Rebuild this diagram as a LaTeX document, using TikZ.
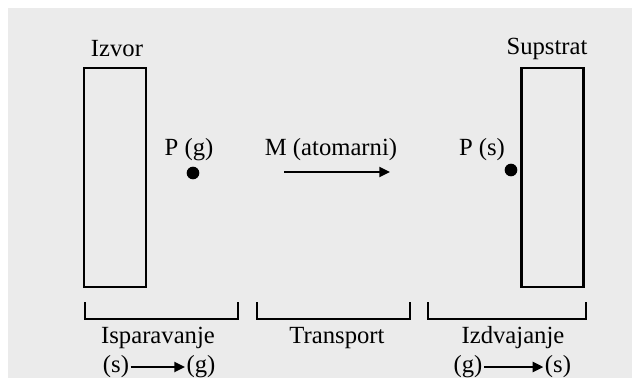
\documentclass[tikz,border=0pt]{standalone}
\usepackage{fontspec}
\setmainfont{Liberation Serif}
\usetikzlibrary{arrows.meta,positioning}
\tikzset{
  lbl/.style={font=\fontsize{18.5}{22}\selectfont, inner sep=1pt},
  plate/.style={draw, line width=1.6pt, minimum width=46.5pt, minimum height=164pt, inner sep=0pt},
  brace/.style={draw, line width=1.5pt},
  flow/.style={line width=1.6pt, -{Triangle[length=8pt,width=7.5pt]}},
  dot/.style={circle, fill, inner sep=0pt, minimum size=9.5pt}
}
\begin{document}
\begin{tikzpicture}[x=0.75pt,y=-0.75pt]
	%background of the scan
	\fill[white] (0,0) rectangle (632,383);
	\fill[black!8] (8,8) rectangle (632,378);
	
	%source and substrate
	\node[plate] (izvor) at (115,177.5){};
	\node[plate] (supstrat) at (552.5,177.5){};
	\node[lbl] (izvorlbl) at (117,49){Izvor};
	\node[lbl] (supstratlbl) at (547,49){Supstrat};
	
	%particles
	\node[lbl] (pg) at (189,150){P (g)};
	\node[dot] (pgdot) at (193,173){};
	\node[lbl] (ps) at (482,150){P (s)};
	\node[dot] (psdot) at (511,170){};
	
	%transport
	\node[lbl] (matom) at (331,150){M (atomarni)};
	\coordinate (mstart) at (284,172);
	\coordinate (mend) at (390,172);
	\draw[flow] (mstart) -- (mend);
	
	%brackets
	\draw[brace] (85,302) -- (85,319) -- (238,319) -- (238,302);
	\draw[brace] (257,302) -- (257,319) -- (410,319) -- (410,302);
	\draw[brace] (428,302) -- (428,319) -- (586,319) -- (586,302);
	
	\node[lbl] (isp) at (158,338){Isparavanje};
	\node[lbl] (trans) at (337,338){Transport};
	\node[lbl] (izd) at (513,338){Izdvajanje};
	
	%phase changes
	\node[lbl] (s1) at (116,367){(s)};
	\node[lbl] (g1) at (201,367){(g)};
	\draw[flow] (s1) -- (g1);
	\node[lbl] (g2) at (468,367){(g)};
	\node[lbl] (s2) at (558,367){(s)};
	\draw[flow] (g2) -- (s2);
\end{tikzpicture}
\end{document}
